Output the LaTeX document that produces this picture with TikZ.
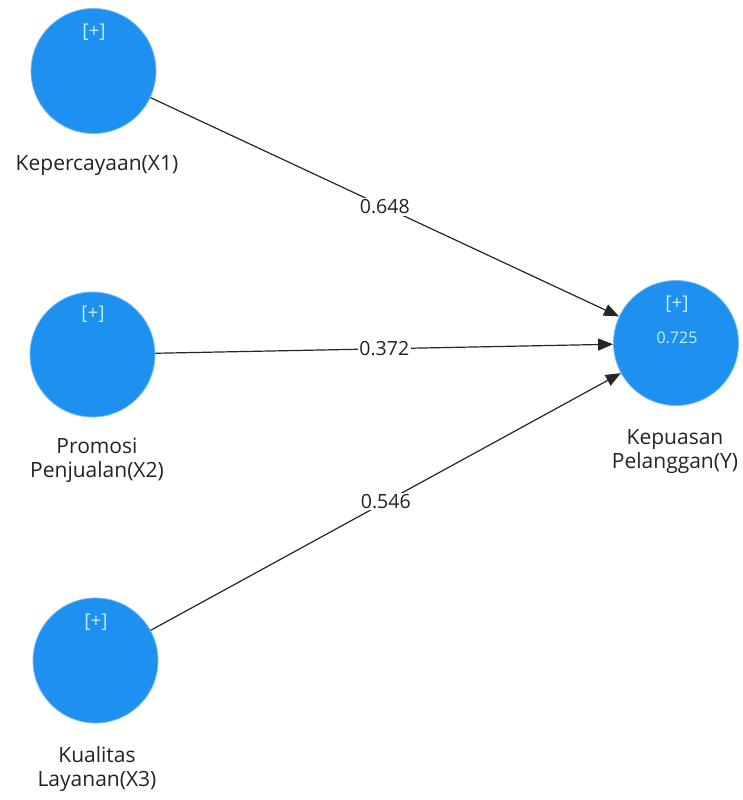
\documentclass[tikz,border=0pt]{standalone}
\usepackage{fontspec}
\setmainfont{Open Sans}
\usetikzlibrary{arrows.meta}
\definecolor{lvblue}{RGB}{30,144,240}
\definecolor{lvtext}{RGB}{190,240,255}
\definecolor{lbltext}{RGB}{35,35,35}
\tikzset{
  lv/.style={circle, fill=lvblue, draw=lvblue!60!white, line width=0.8pt, minimum size=125pt, inner sep=0pt},
  plus/.style={text=lvtext, font=\fontsize{19}{21}\selectfont},
  rsq/.style={text=lvtext, font=\fontsize{16}{18}\selectfont},
  lvname/.style={text=lbltext, align=center, font=\fontsize{21}{24}\selectfont},
  path/.style={draw=black!85, line width=1.2pt, -{Triangle[length=15pt,width=12pt]}},
  coef/.style={fill=white, inner sep=1.5pt, text=lbltext, font=\fontsize{19.5}{21}\selectfont}
}
\begin{document}
\begin{tikzpicture}[x=1pt,y=-1pt]
\useasboundingbox (0,0) rectangle (743,800);
\fill[white] (0,0) rectangle (743,800);
\node[lv] (x1) at (93.5,71) {};
\node[lv] (x2) at (92.5,354.5) {};
\node[lv] (x3) at (95.5,660.5) {};
\node[lv] (y) at (676,343) {};
\node[plus] (p1) at (94,32) {[+]};
\node[plus] (p2) at (93,314) {[+]};
\node[plus] (p3) at (96,622) {[+]};
\node[plus] (p4) at (677,304) {[+]};
\node[rsq] (r2) at (677,338) {0.725};
\node[lvname] (n1) at (97,166) {Kepercayaan(X1)};
\node[lvname] (n2) at (97,460) {Promosi\\Penjualan(X2)};
\node[lvname] (n3) at (97,769) {Kualitas\\Layanan(X3)};
\node[lvname] (n4) at (675,452) {Kepuasan\\Pelanggan(Y)};
\draw[path] (x1) -- node[coef] {0.648} (y);
\draw[path] (x2) -- node[coef] {0.372} (y);
\draw[path] (x3) -- node[coef] {0.546} (y);
\end{tikzpicture}
\end{document}
